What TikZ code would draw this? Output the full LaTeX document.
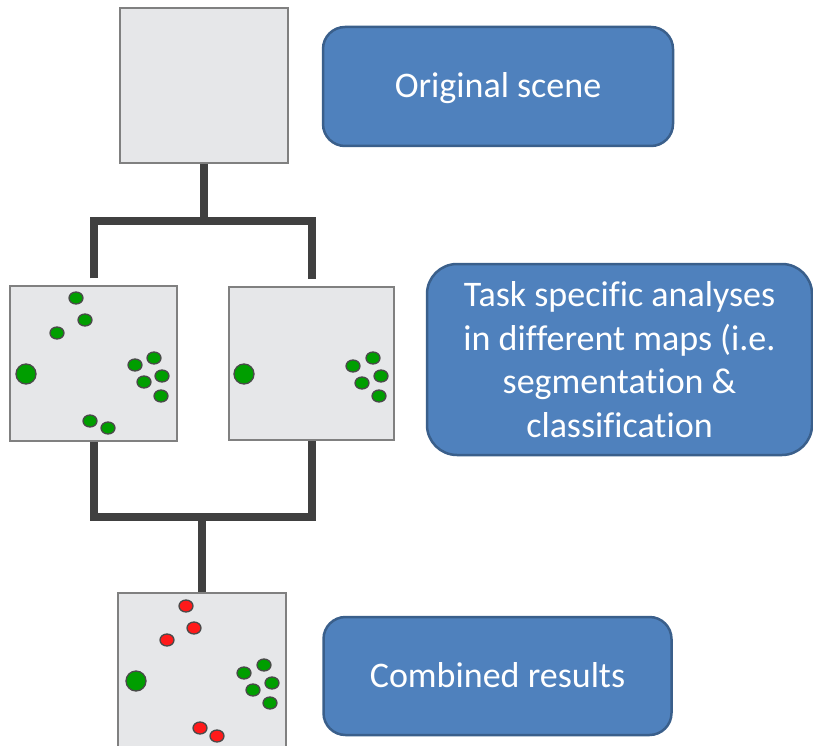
\documentclass[tikz,border=0pt]{standalone}
\usepackage{fontspec}
\setmainfont{Carlito}[Ligatures={NoCommon,NoContextual}]
\definecolor{boxblue}{HTML}{4F81BD}
\definecolor{boxedge}{HTML}{3A5F8B}
\definecolor{mapfill}{HTML}{E6E7E9}
\definecolor{mapedge}{HTML}{808080}
\definecolor{connc}{HTML}{404040}
\definecolor{dotgreen}{HTML}{009E00}
\definecolor{dotred}{HTML}{FF1A1A}
\definecolor{dotedge}{HTML}{4A4A4A}
\tikzset{
  mapbox/.style={draw=mapedge, fill=mapfill, line width=1.5pt, minimum width=167pt, minimum height=155pt, inner sep=0pt},
  bluebox/.style={draw=boxedge, fill=boxblue, line width=2.5pt, rounded corners=22pt, text=white, align=center, inner sep=0pt, font=\fontsize{36}{43.5}\selectfont},
  oneline/.style={text height=23pt, text depth=0pt},
  conn/.style={draw=connc, line width=8pt, line join=miter},
  gdot/.style={draw=dotedge, fill=dotgreen, line width=1.3pt},
  rdot/.style={draw=dotedge, fill=dotred, line width=1.3pt}
}
\begin{document}
\begin{tikzpicture}[x=1pt, y=-1pt]
\useasboundingbox (0,0) rectangle (813,746);
\clip (0,0) rectangle (813,746);

% gray map boxes
\node[mapbox, minimum width=168pt] (orig) at (204,85.5) {};
\node[mapbox] (mapL) at (93.5,363.5) {};
\node[mapbox, minimum width=165pt, minimum height=153pt] (mapR) at (311.5,363.5) {};
\node[mapbox, minimum width=168pt] (comb) at (202,670.5) {};

% connectors
\coordinate (forkT) at (204,221);
\coordinate (forkB) at (202,517);
\draw[conn] (orig.south) -- (forkT);
\draw[conn] ([yshift=7pt]mapL.north) |- (forkT) -| ([yshift=7pt]mapR.north);
\draw[conn] (mapL.south) |- (forkB) -| (mapR.south);
\draw[conn] (forkB) -- (comb.north);

% dots in left map
\draw[gdot] (76,298) ellipse (7 and 6);
\draw[gdot] (85,320) ellipse (7 and 6);
\draw[gdot] (57,333) ellipse (7 and 6);
\draw[gdot] (26,374) circle (10);
\draw[gdot] (135,365) ellipse (7 and 6);
\draw[gdot] (154,358) ellipse (7 and 6);
\draw[gdot] (162,376) ellipse (7 and 6);
\draw[gdot] (144,382) ellipse (7 and 6);
\draw[gdot] (161,396) ellipse (7 and 6);
\draw[gdot] (90,421) ellipse (7 and 6);
\draw[gdot] (108,428) ellipse (7 and 6);

% dots in right map
\draw[gdot] (244,374) circle (10);
\draw[gdot] (353,366) ellipse (7 and 6);
\draw[gdot] (373,358) ellipse (7 and 6);
\draw[gdot] (381,376) ellipse (7 and 6);
\draw[gdot] (362,383) ellipse (7 and 6);
\draw[gdot] (379,396) ellipse (7 and 6);

% dots in combined map
\draw[rdot] (186,606) ellipse (7 and 6);
\draw[rdot] (194,628) ellipse (7 and 6);
\draw[rdot] (167,640) ellipse (7 and 6);
\draw[gdot] (136,681) circle (10);
\draw[gdot] (244,673) ellipse (7 and 6);
\draw[gdot] (264,665) ellipse (7 and 6);
\draw[gdot] (272,683) ellipse (7 and 6);
\draw[gdot] (253,690) ellipse (7 and 6);
\draw[gdot] (270,703) ellipse (7 and 6);
\draw[rdot] (200,728) ellipse (7 and 6);
\draw[rdot] (217,736) ellipse (7 and 6);

% blue label boxes
\node[bluebox, oneline, minimum width=350pt, minimum height=119pt] (lscene) at (498,86.5) {Original scene};
\node[bluebox, minimum width=385pt, minimum height=191pt, rounded corners=30pt] (ltask) at (619.5,359.5) {Task specific analyses\\in different maps (i.e.\\segmentation \&\\classification};
\node[bluebox, oneline, minimum width=348pt, minimum height=118pt] (lcomb) at (497.5,676) {Combined results};
\end{tikzpicture}
\end{document}
